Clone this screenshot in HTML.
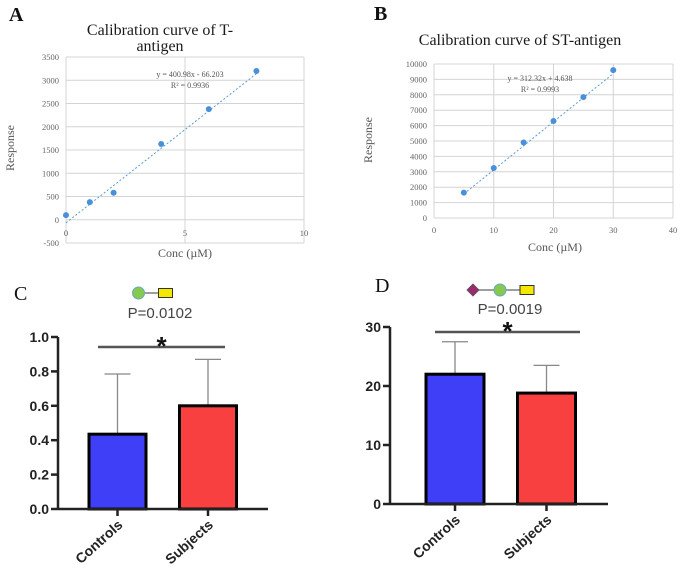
<!DOCTYPE html>
<html><head><meta charset="utf-8"><style>
body{margin:0;background:#fff;}
svg{display:block;}
.ser{font-family:"Liberation Serif",serif;}
.san{font-family:"Liberation Sans",sans-serif;}
</style></head><body>
<svg id="s" width="685" height="568" viewBox="0 0 685 568" xmlns="http://www.w3.org/2000/svg">
<g id="gA"></g>
<g id="gB"></g>
<g id="gC"></g>
<g id="gD"></g>
</svg>
<script>
// Panel A data
const aX = [0, 1, 2, 4, 6, 8];
const aY = [100, 380, 580, 1630, 2380, 3200];
const aYTicks = [-500, 0, 500, 1000, 1500, 2000, 2500, 3000, 3500];
const aXTicks = [0, 5, 10];
const aSlope = 400.98, aIntercept = -66.203;
// Panel B data
const bX = [5, 10, 15, 20, 25, 30];
const bY = [1650, 3250, 4900, 6300, 7850, 9600];
const bYTicks = [0,1000,2000,3000,4000,5000,6000,7000,8000,9000,10000];
const bXTicks = [0, 10, 20, 30, 40];
const bSlope = 312.32, bIntercept = 4.638;
// Panel C data
const cCats = ["Controls", "Subjects"];
const cVals = [0.435, 0.6];
const cErr = [0.785, 0.87];
const cTicks = [0.0, 0.2, 0.4, 0.6, 0.8, 1.0];
// Panel D data
const dCats = ["Controls", "Subjects"];
const dVals = [22, 18.8];
const dErr = [27.5, 23.5];
const dTicks = [0, 10, 20, 30];

const NS = "http://www.w3.org/2000/svg";
function mk(parent, tag, attrs, text) {
  const e = document.createElementNS(NS, tag);
  for (const k in attrs) e.setAttribute(k, attrs[k]);
  if (text !== undefined) e.textContent = text;
  parent.appendChild(e);
  return e;
}

function scatter(g, o) {
  const sx = v => o.x0 + (v - o.xmin) / (o.xmax - o.xmin) * (o.x1 - o.x0);
  const sy = v => o.y0 - (v - o.ymin) / (o.ymax - o.ymin) * (o.y0 - o.y1);
  let e = mk(g, "text", {x: o.letterX, y: o.letterY, class: "ser", "font-size": 20, "font-weight": "bold", fill: "#111"}, o.letter);
  
  
  o.title.forEach((t, i) => {
    const tt = mk(g, "text", {x: o.titleX, y: o.titleY + i * 16, class: "ser", "font-size": 16, "text-anchor": "middle", fill: "#1a1a1a"}, t);
    
    
  });
  o.yTicks.forEach(v => {
    const l = mk(g, "line", {x1: o.x0, x2: o.x1, y1: sy(v), y2: sy(v), stroke: "#d4d4d4", "stroke-width": 1});
    
    
    const t = mk(g, "text", {x: o.x0 - 7, y: sy(v) + 3, class: "ser", "font-size": 8.5, "text-anchor": "end", fill: "#666"}, v);
    
    
  });
  o.xTicks.forEach(v => {
    const l = mk(g, "line", {x1: sx(v), x2: sx(v), y1: o.y1, y2: o.y0, stroke: "#d4d4d4", "stroke-width": 1});
    
    
    const t = mk(g, "text", {x: sx(v), y: o.xLabY, class: "ser", "font-size": 8.5, "text-anchor": "middle", fill: "#666"}, v);
    
    
  });
  const fx0 = o.fitFrom, fx1 = o.fitTo;
  const fl = mk(g, "line", {x1: sx(fx0), y1: sy(o.slope * fx0 + o.intercept), x2: sx(fx1), y2: sy(o.slope * fx1 + o.intercept), stroke: "#5b9bd5", "stroke-width": 1, "stroke-dasharray": "2,2"});
  
  
  o.xs.forEach((v, i) => {
    const c = mk(g, "circle", {cx: sx(v), cy: sy(o.ys[i]), r: 3, fill: "#4a90d9"});
    
    
  });
  o.eq.forEach((t, i) => {
    const tt = mk(g, "text", {x: o.eqX, y: o.eqY + i * 11, class: "ser", "font-size": 8, "text-anchor": "middle", fill: "#555"}, t);
    
    
  });
  const yl = mk(g, "text", {x: 0, y: 0, class: "ser", "font-size": 12, "text-anchor": "middle", fill: "#555", transform: `translate(${o.ylabX},${o.ylabY}) rotate(-90)`}, "Response");
  
  
  const xl = mk(g, "text", {x: o.xlabX, y: o.xlabY, class: "ser", "font-size": 12, "text-anchor": "middle", fill: "#555"}, "Conc (\u00b5M)");
  
  
}

scatter(document.getElementById("gA"), {
  letter: "A", letterX: 9, letterY: 21, title: ["Calibration curve of T-", "antigen"], titleX: 160, titleY: 35,
  x0: 66, x1: 304, y0: 243, y1: 57, xmin: 0, xmax: 10, ymin: -500, ymax: 3500,
  yTicks: aYTicks, xTicks: aXTicks, xLabY: 236, xs: aX, ys: aY, slope: aSlope, intercept: aIntercept, fitFrom: 0, fitTo: 8,
  eq: ["y = 400.98x - 66.203", "R\u00b2 = 0.9936"], eqX: 190, eqY: 77, ylabX: 14, ylabY: 148, xlabX: 185, xlabY: 257
});
scatter(document.getElementById("gB"), {
  letter: "B", letterX: 374, letterY: 20, title: ["Calibration curve of ST-antigen"], titleX: 520, titleY: 45,
  x0: 434, x1: 673, y0: 218, y1: 64, xmin: 0, xmax: 40, ymin: 0, ymax: 10000,
  yTicks: bYTicks, xTicks: bXTicks, xLabY: 233, xs: bX, ys: bY, slope: bSlope, intercept: bIntercept, fitFrom: 5, fitTo: 30,
  eq: ["y = 312.32x + 4.638", "R\u00b2 = 0.9993"], eqX: 540, eqY: 81, ylabX: 372, ylabY: 140, xlabX: 555, xlabY: 251
});

function glycan(g, shapes, cx, cy) {
  const gap = 27;
  const start = cx - (shapes.length - 1) * gap / 2;
  mk(g, "line", {x1: start, x2: start + (shapes.length - 1) * gap, y1: cy, y2: cy, stroke: "#666", "stroke-width": 1.2});
  shapes.forEach((s, i) => {
    const x = start + i * gap;
    let e;
    if (s === "circle") e = mk(g, "circle", {cx: x, cy: cy, r: 6, fill: "#86c94e", stroke: "#6aa8c0", "stroke-width": 1});
    else if (s === "rect") e = mk(g, "rect", {x: x - 7, y: cy - 4.5, width: 14, height: 9, fill: "#f5e800", stroke: "#333", "stroke-width": 1});
    else e = mk(g, "polygon", {points: `${x},${cy-6} ${x+6},${cy} ${x},${cy+6} ${x-6},${cy}`, fill: "#9b2a6e", stroke: "#555", "stroke-width": 0.8});
    
    
  });
}

function bars(g, o) {
  const sy = v => o.y0 - (v - o.ymin) / (o.ymax - o.ymin) * (o.y0 - o.y1);
  let e = mk(g, "text", {x: o.letterX, y: o.letterY, class: "ser", "font-size": 20, fill: "#111"}, o.letter);
  
  
  glycan(g, o.glycan, o.glyX, o.glyY);
  e = mk(g, "text", {x: o.pX, y: o.pY, class: "san", "font-size": 15, "text-anchor": "middle", fill: "#444"}, o.p);
  
  
  e = mk(g, "line", {x1: o.sigX0, x2: o.sigX1, y1: o.sigY, y2: o.sigY, stroke: "#555", "stroke-width": 2.5});
  
  
  e = mk(g, "text", {x: (o.sigX0 + o.sigX1) / 2, y: o.sigY + 8, class: "san", "font-size": 26, "font-weight": "bold", "text-anchor": "middle", fill: "#111"}, "*");
  
  
  const colors = ["#3f3ff8", "#f84040"];
  o.vals.forEach((v, i) => {
    const xc = o.centers[i];
    const er = mk(g, "line", {x1: xc, x2: xc, y1: sy(o.err[i]), y2: sy(v), stroke: "#888", "stroke-width": 1.3});
    
    
    const cap = mk(g, "line", {x1: xc - 13, x2: xc + 13, y1: sy(o.err[i]), y2: sy(o.err[i]), stroke: "#888", "stroke-width": 1.3});
    
    
    const b = mk(g, "rect", {x: xc - o.bw / 2, y: sy(v), width: o.bw, height: sy(o.ymin) - sy(v), fill: colors[i], stroke: "#000", "stroke-width": 3});
    
    
    mk(g, "line", {x1: xc, x2: xc, y1: o.y0, y2: o.y0 + 7, stroke: "#222", "stroke-width": 2.5});
    const t = mk(g, "text", {x: 0, y: 0, class: "san", "font-size": 14, "font-weight": "bold", "text-anchor": "end", fill: "#222", transform: `translate(${xc + 6},${o.y0 + 17}) rotate(-42)`}, o.cats[i]);
    
    
  });
  e = mk(g, "line", {x1: o.x0, x2: o.x0, y1: o.y1, y2: o.y0 + 1, stroke: "#222", "stroke-width": 2.5});
  
  
  e = mk(g, "line", {x1: o.x0, x2: o.x1, y1: o.y0, y2: o.y0, stroke: "#222", "stroke-width": 2.5});
  
  
  o.ticks.forEach(v => {
    mk(g, "line", {x1: o.x0 - 7, x2: o.x0, y1: sy(v), y2: sy(v), stroke: "#222", "stroke-width": 2.5});
    const t = mk(g, "text", {x: o.x0 - 9, y: sy(v) + 5, class: "san", "font-size": 14, "font-weight": "bold", "text-anchor": "end", fill: "#222"}, o.fmt(v));
    
    
  });
}

bars(document.getElementById("gC"), {
  letter: "C", letterX: 14, letterY: 300, glycan: ["circle", "rect"], glyX: 152, glyY: 293,
  p: "P=0.0102", pX: 160, pY: 318, sigX0: 98, sigX1: 225, sigY: 347,
  x0: 58, x1: 268, y0: 509, y1: 337, ymin: 0, ymax: 1, bw: 57, centers: [117.5, 208],
  cats: cCats, vals: cVals, err: cErr, ticks: cTicks, fmt: v => v.toFixed(1)
});
bars(document.getElementById("gD"), {
  letter: "D", letterX: 375, letterY: 292, glycan: ["diamond", "circle", "rect"], glyX: 500, glyY: 290,
  p: "P=0.0019", pX: 510, pY: 314, sigX0: 435, sigX1: 580, sigY: 332,
  x0: 390, x1: 608, y0: 504, y1: 327, ymin: 0, ymax: 30, bw: 58, centers: [455, 546.5],
  cats: dCats, vals: dVals, err: dErr, ticks: dTicks, fmt: v => String(v)
});
</script>
</body></html>
